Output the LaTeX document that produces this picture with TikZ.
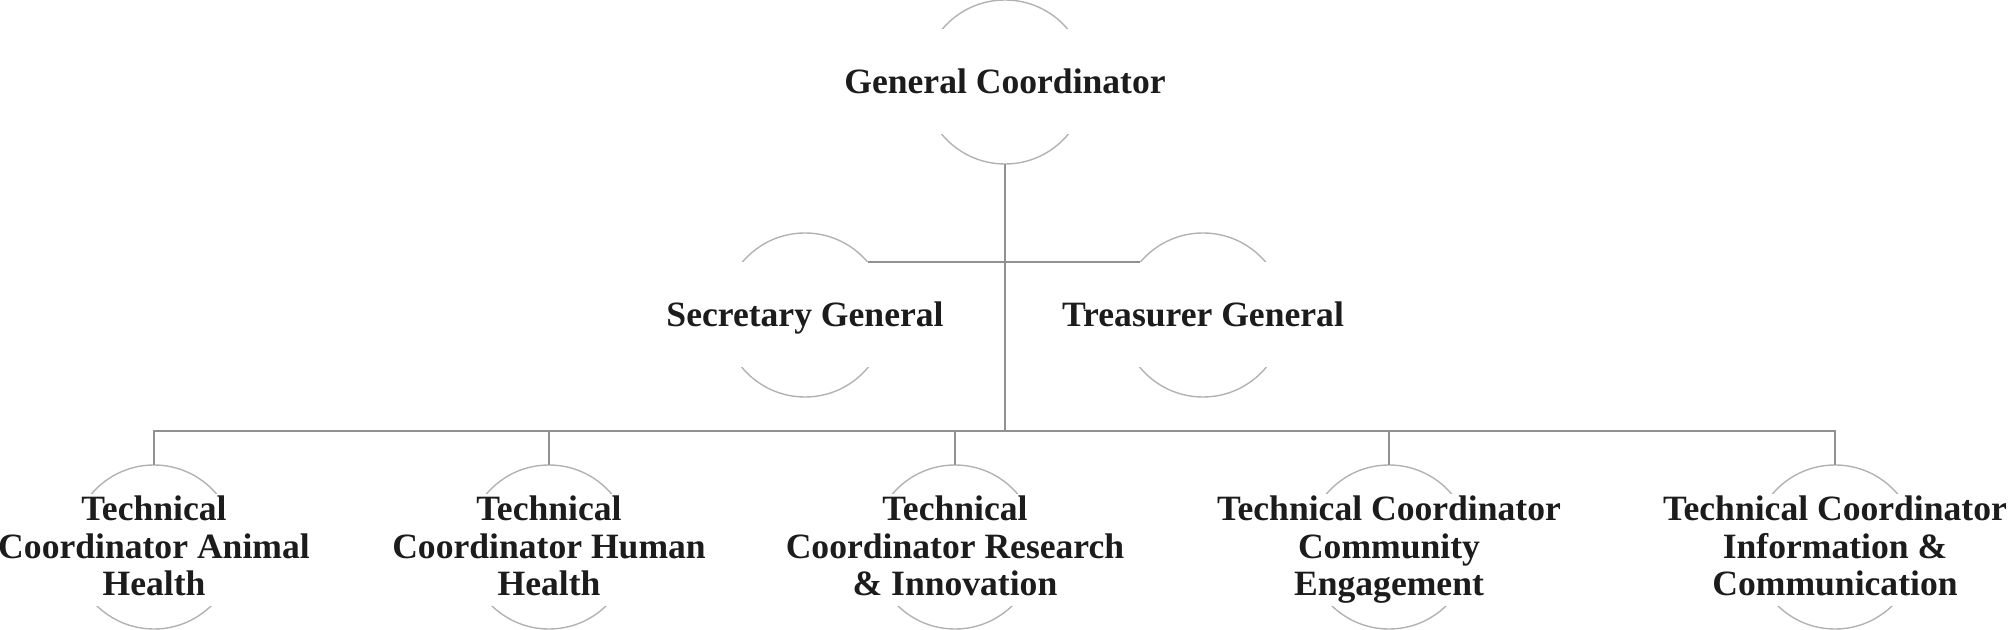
\documentclass[tikz,border=0pt]{standalone}
\usepackage{fontspec}
\setmainfont{Liberation Serif}

\definecolor{ringgray}{RGB}{178,178,178}
\definecolor{linkgray}{RGB}{145,145,145}
\definecolor{inkblack}{RGB}{28,28,28}

\begin{document}
\begin{tikzpicture}[x=0.5pt, y=-0.5pt,
  ring/.style={circle, draw=ringgray, line width=0.7pt, minimum size=82pt, inner sep=0pt, outer sep=0pt},
  roletext/.style={fill=white, text=inkblack, font=\fontsize{17.8}{18.75}\selectfont\bfseries, align=center,
    inner xsep=2pt, inner ysep=0pt, minimum height=52.5pt,
    execute at begin node=\rule{0pt}{15.6pt}, execute at end node=\rule[-4pt]{0pt}{4pt}},
  roletextthree/.style={roletext, minimum height=56pt, yshift=-1.5pt},
  link/.style={draw=linkgray, line width=1pt}
]
  \useasboundingbox (0,0) rectangle (2008,630);

  % rings
  \node[ring] (gc) at (1005,82)  {};
  \node[ring] (sg) at (805,315)  {};
  \node[ring] (tg) at (1203,315) {};
  \node[ring] (ta) at (154,547)  {};
  \node[ring] (th) at (549,547)  {};
  \node[ring] (tr) at (955,547)  {};
  \node[ring] (tc) at (1389,547) {};
  \node[ring] (ti) at (1835,547) {};

  % captions
  \node[roletext] (gcl) at (gc) {General Coordinator};
  \node[roletext] (sgl) at (sg) {Secretary General};
  \node[roletext] (tgl) at (tg) {Treasurer General};
  \node[roletextthree] (tal) at (ta) {Technical\\Coordinator Animal\\Health};
  \node[roletextthree] (thl) at (th) {Technical\\Coordinator Human\\Health};
  \node[roletextthree] (trl) at (tr) {Technical\\Coordinator Research\\\& Innovation};
  \node[roletextthree] (tcl) at (tc) {Technical Coordinator\\Community\\Engagement};
  \node[roletextthree] (til) at (ti) {Technical Coordinator\\Information \&\\Communication};

  \coordinate (bus) at (1005,431);

  % links
  \draw[link] (gc.south) -- (bus);
  \draw[link] (sg.40) -- (tg.140);
  \draw[link] (ta.north) |- (bus) -| (ti.north);
  \foreach \n in {th,tr,tc}
    \draw[link] (\n.north) -- (\n.north |- bus);
\end{tikzpicture}
\end{document}
